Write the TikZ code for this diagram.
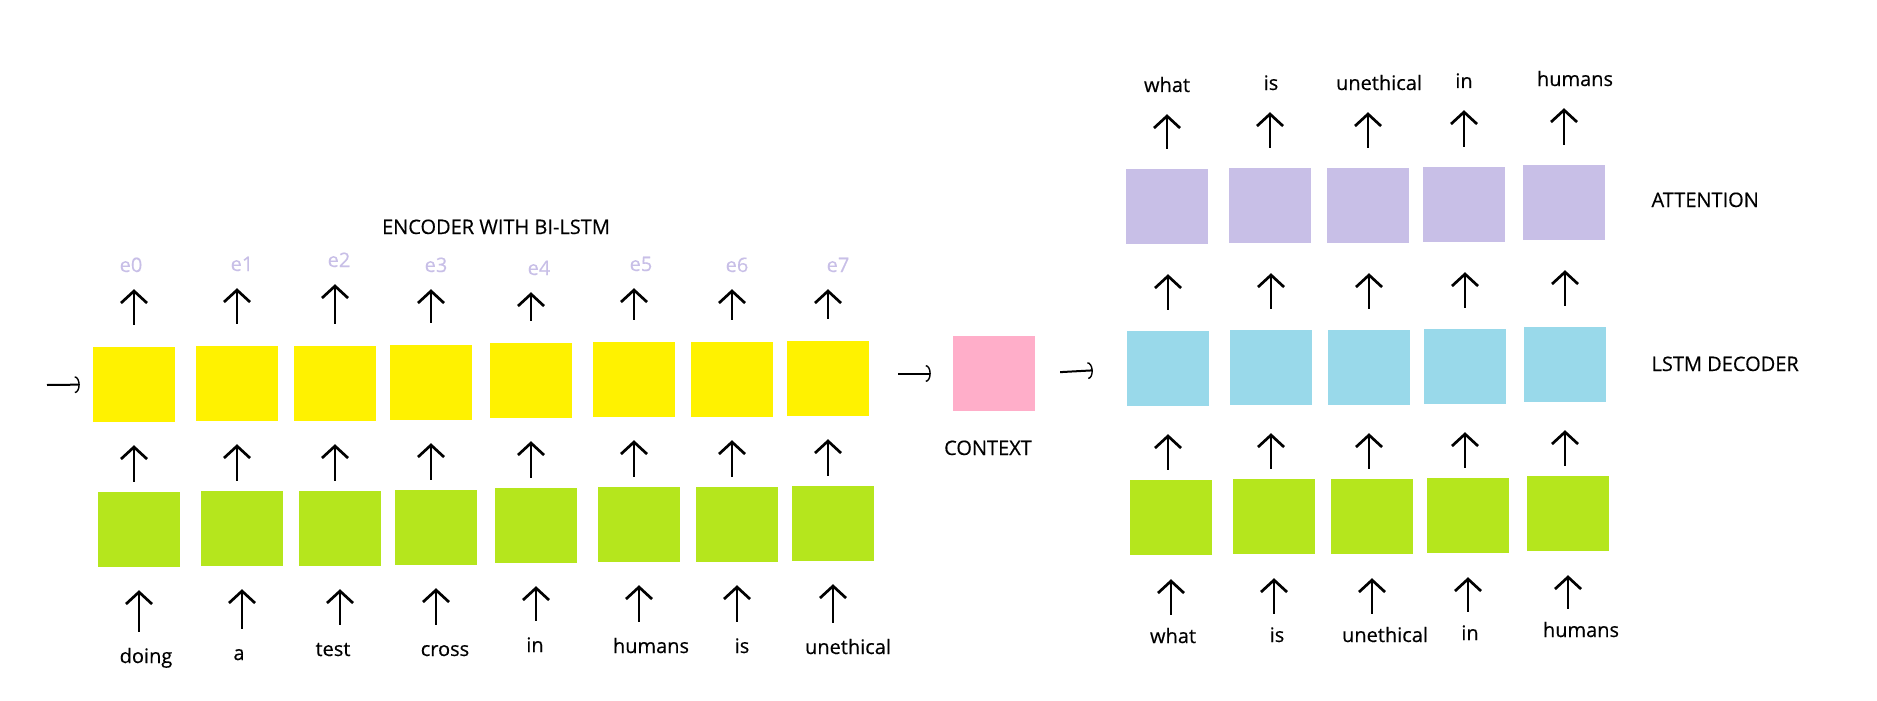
\documentclass[tikz,border=0pt]{standalone}
\usepackage{fontspec}
\setmainfont{Open Sans}[FakeBold=0.4]
\usetikzlibrary{arrows.meta}

\definecolor{encyellow}{HTML}{FFF200}
\definecolor{embgreen}{HTML}{B5E61D}
\definecolor{ctxpink}{HTML}{FFAEC9}
\definecolor{decblue}{HTML}{99D9EA}
\definecolor{attpurple}{HTML}{C8BFE7}

\begin{document}
\begin{tikzpicture}[
    x=1pt, y=-1pt,
    cell/.style={minimum width=82pt, minimum height=75pt, inner sep=0pt},
    word/.style={anchor=base, inner sep=0pt, text height=15pt, text depth=5pt},
    uparrow/.style={line width=2.7pt, -{Straight Barb[length=12pt, width=26pt]}},
    sidearrow/.style={line width=2pt, -{Arc Barb[length=5pt, width=17pt, line width=1.4pt]}},
    font=\fontsize{20}{24}\selectfont
]
\useasboundingbox (0,0) rectangle (1877,701);

% Encoder title
\node[anchor=base] (enctitle) at (496,234) {ENCODER WITH BI-LSTM};

% Encoder: Bi-LSTM row (yellow)
\node[cell, fill=encyellow] (enc0) at (134,384.5) {};
\node[cell, fill=encyellow] (enc1) at (237,383.5) {};
\node[cell, fill=encyellow] (enc2) at (335,383.5) {};
\node[cell, fill=encyellow] (enc3) at (431,382.5) {};
\node[cell, fill=encyellow] (enc4) at (531,380.5) {};
\node[cell, fill=encyellow] (enc5) at (634,379.5) {};
\node[cell, fill=encyellow] (enc6) at (732,379.5) {};
\node[cell, fill=encyellow] (enc7) at (828,378.5) {};

% Encoder: input row (green)
\node[cell, fill=embgreen] (emb0) at (139,529.5) {};
\node[cell, fill=embgreen] (emb1) at (242,528.5) {};
\node[cell, fill=embgreen] (emb2) at (340,528.5) {};
\node[cell, fill=embgreen] (emb3) at (436,527.5) {};
\node[cell, fill=embgreen] (emb4) at (536,525.5) {};
\node[cell, fill=embgreen] (emb5) at (639,524.5) {};
\node[cell, fill=embgreen] (emb6) at (737,524.5) {};
\node[cell, fill=embgreen] (emb7) at (833,523.5) {};

% Encoder outputs e0..e7
\node[word, text=attpurple] (e0) at (131,272) {e0};
\node[word, text=attpurple] (e1) at (242,271) {e1};
\node[word, text=attpurple] (e2) at (339,267) {e2};
\node[word, text=attpurple] (e3) at (436,272) {e3};
\node[word, text=attpurple] (e4) at (539,275) {e4};
\node[word, text=attpurple] (e5) at (641,271) {e5};
\node[word, text=attpurple] (e6) at (737,272) {e6};
\node[word, text=attpurple] (e7) at (838,272) {e7};

% Encoder input words
\node[word] (win0) at (146,663) {doing};
\node[word] (win1) at (239,660) {a};
\node[word] (win2) at (333,656) {test};
\node[word] (win3) at (445,656) {cross};
\node[word] (win4) at (535,652) {in};
\node[word] (win5) at (651,653) {humans};
\node[word] (win6) at (742,653) {is};
\node[word] (win7) at (848,654) {unethical};

% Encoder arrows
\draw[uparrow, shorten <=16pt, shorten >=23pt] (win0.north -| emb0) -- (emb0.south);
\draw[uparrow, shorten <=16pt, shorten >=23pt] (win1.north -| emb1) -- (emb1.south);
\draw[uparrow, shorten <=16pt, shorten >=23pt] (win2.north -| emb2) -- (emb2.south);
\draw[uparrow, shorten <=16pt, shorten >=23pt] (win3.north -| emb3) -- (emb3.south);
\draw[uparrow, shorten <=16pt, shorten >=23pt] (win4.north -| emb4) -- (emb4.south);
\draw[uparrow, shorten <=16pt, shorten >=23pt] (win5.north -| emb5) -- (emb5.south);
\draw[uparrow, shorten <=16pt, shorten >=23pt] (win6.north -| emb6) -- (emb6.south);
\draw[uparrow, shorten <=16pt, shorten >=23pt] (win7.north -| emb7) -- (emb7.south);
\draw[uparrow, shorten <=10pt, shorten >=23pt] (emb0.north -| enc0) -- (enc0.south);
\draw[uparrow, shorten <=10pt, shorten >=23pt] (emb1.north -| enc1) -- (enc1.south);
\draw[uparrow, shorten <=10pt, shorten >=23pt] (emb2.north -| enc2) -- (enc2.south);
\draw[uparrow, shorten <=10pt, shorten >=23pt] (emb3.north -| enc3) -- (enc3.south);
\draw[uparrow, shorten <=10pt, shorten >=23pt] (emb4.north -| enc4) -- (enc4.south);
\draw[uparrow, shorten <=10pt, shorten >=23pt] (emb5.north -| enc5) -- (enc5.south);
\draw[uparrow, shorten <=10pt, shorten >=23pt] (emb6.north -| enc6) -- (enc6.south);
\draw[uparrow, shorten <=10pt, shorten >=23pt] (emb7.north -| enc7) -- (enc7.south);
\draw[uparrow, shorten <=22pt, shorten >=12pt] (enc0.north) -- (e0.south -| enc0);
\draw[uparrow, shorten <=22pt, shorten >=12pt] (enc1.north) -- (e1.south -| enc1);
\draw[uparrow, shorten <=22pt, shorten >=12pt] (enc2.north) -- (e2.south -| enc2);
\draw[uparrow, shorten <=22pt, shorten >=12pt] (enc3.north) -- (e3.south -| enc3);
\draw[uparrow, shorten <=22pt, shorten >=12pt] (enc4.north) -- (e4.south -| enc4);
\draw[uparrow, shorten <=22pt, shorten >=12pt] (enc5.north) -- (e5.south -| enc5);
\draw[uparrow, shorten <=22pt, shorten >=12pt] (enc6.north) -- (e6.south -| enc6);
\draw[uparrow, shorten <=22pt, shorten >=12pt] (enc7.north) -- (e7.south -| enc7);

% Context box
\node[cell, fill=ctxpink] (ctx) at (994,373.5) {};
\node[anchor=base] (ctxlabel) at (988,455) {CONTEXT};

% Decoder: attention row (purple)
\node[cell, fill=attpurple] (att0) at (1167,206.5) {};
\node[cell, fill=attpurple] (att1) at (1270,205.5) {};
\node[cell, fill=attpurple] (att2) at (1368,205.5) {};
\node[cell, fill=attpurple] (att3) at (1464,204.5) {};
\node[cell, fill=attpurple] (att4) at (1564,202.5) {};

% Decoder: LSTM row (blue)
\node[cell, fill=decblue] (dec0) at (1168,368.5) {};
\node[cell, fill=decblue] (dec1) at (1271,367.5) {};
\node[cell, fill=decblue] (dec2) at (1369,367.5) {};
\node[cell, fill=decblue] (dec3) at (1465,366.5) {};
\node[cell, fill=decblue] (dec4) at (1565,364.5) {};

% Decoder: input row (green)
\node[cell, fill=embgreen] (demb0) at (1171,517.5) {};
\node[cell, fill=embgreen] (demb1) at (1274,516.5) {};
\node[cell, fill=embgreen] (demb2) at (1372,516.5) {};
\node[cell, fill=embgreen] (demb3) at (1468,515.5) {};
\node[cell, fill=embgreen] (demb4) at (1568,513.5) {};

% Decoder words in and out
\node[word] (din0) at (1173,643) {what};
\node[word] (din1) at (1277,642) {is};
\node[word] (din2) at (1385,642) {unethical};
\node[word] (din3) at (1470,640) {in};
\node[word] (din4) at (1581,637) {humans};
\node[word] (dout0) at (1167,92) {what};
\node[word] (dout1) at (1271,90) {is};
\node[word] (dout2) at (1379,90) {unethical};
\node[word] (dout3) at (1464,88) {in};
\node[word] (dout4) at (1575,86) {humans};

% Row labels
\node[anchor=base west] (attlabel) at (1648,207) {ATTENTION};
\node[anchor=base west] (declabel) at (1648,371) {LSTM DECODER};

% Decoder arrows
\draw[uparrow, shorten <=13pt, shorten >=24pt] (din0.north -| demb0) -- (demb0.south);
\draw[uparrow, shorten <=13pt, shorten >=24pt] (din1.north -| demb1) -- (demb1.south);
\draw[uparrow, shorten <=13pt, shorten >=24pt] (din2.north -| demb2) -- (demb2.south);
\draw[uparrow, shorten <=13pt, shorten >=24pt] (din3.north -| demb3) -- (demb3.south);
\draw[uparrow, shorten <=13pt, shorten >=24pt] (din4.north -| demb4) -- (demb4.south);
\draw[uparrow, shorten <=10pt, shorten >=28pt] (demb0.north -| dec0) -- (dec0.south);
\draw[uparrow, shorten <=10pt, shorten >=28pt] (demb1.north -| dec1) -- (dec1.south);
\draw[uparrow, shorten <=10pt, shorten >=28pt] (demb2.north -| dec2) -- (dec2.south);
\draw[uparrow, shorten <=10pt, shorten >=28pt] (demb3.north -| dec3) -- (dec3.south);
\draw[uparrow, shorten <=10pt, shorten >=28pt] (demb4.north -| dec4) -- (dec4.south);
\draw[uparrow, shorten <=21pt, shorten >=30pt] (dec0.north) -- (att0.south -| dec0);
\draw[uparrow, shorten <=21pt, shorten >=30pt] (dec1.north) -- (att1.south -| dec1);
\draw[uparrow, shorten <=21pt, shorten >=30pt] (dec2.north) -- (att2.south -| dec2);
\draw[uparrow, shorten <=21pt, shorten >=30pt] (dec3.north) -- (att3.south -| dec3);
\draw[uparrow, shorten <=21pt, shorten >=30pt] (dec4.north) -- (att4.south -| dec4);
\draw[uparrow, shorten <=20pt, shorten >=17pt] (att0.north) -- (dout0.south -| att0);
\draw[uparrow, shorten <=20pt, shorten >=17pt] (att1.north) -- (dout1.south -| att1);
\draw[uparrow, shorten <=20pt, shorten >=17pt] (att2.north) -- (dout2.south -| att2);
\draw[uparrow, shorten <=20pt, shorten >=17pt] (att3.north) -- (dout3.south -| att3);
\draw[uparrow, shorten <=20pt, shorten >=17pt] (att4.north) -- (dout4.south -| att4);

% Side arrows
\coordinate (start) at (47,385);
\draw[sidearrow, shorten >=13pt] (start) -- (enc0.west);
\draw[sidearrow, shorten <=29pt, shorten >=22pt] (enc7.east |- ctx) -- (ctx.west);
\draw[sidearrow, shorten <=25pt, shorten >=34pt] (ctx.east) -- (dec0.west);
\end{tikzpicture}
\end{document}
